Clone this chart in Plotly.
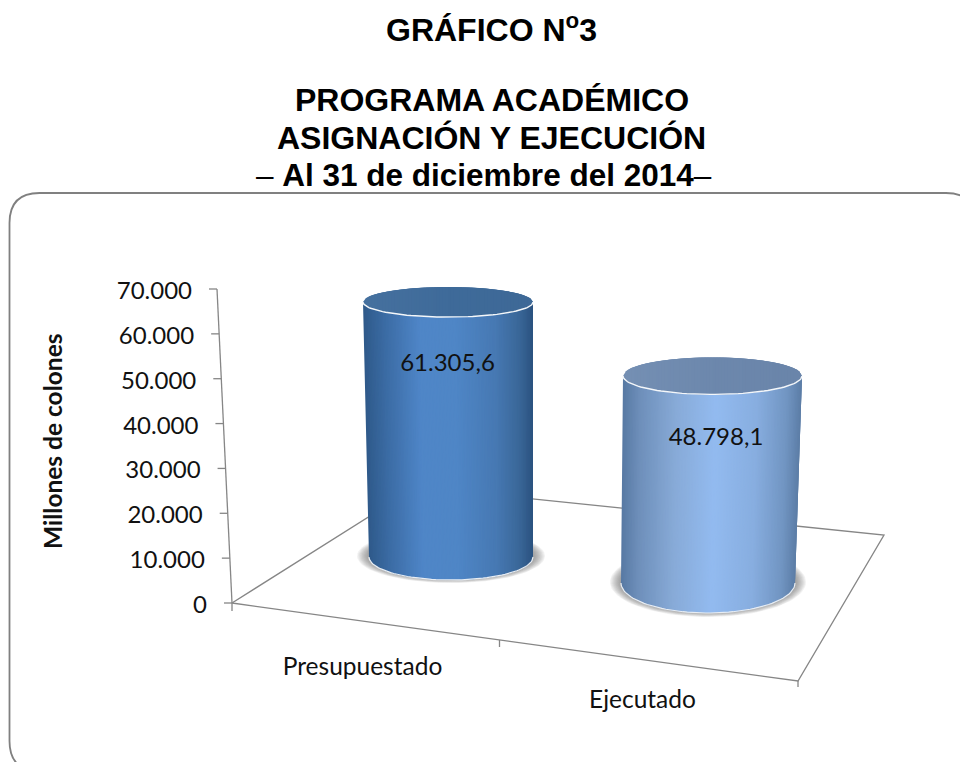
import numpy as np
import plotly.graph_objects as go

# Data
categories = ["Presupuestado", "Ejecutado"]
values = [61305.6, 48798.1]
tick_values = [0, 10000, 20000, 30000, 40000, 50000, 60000, 70000]
tick_labels = ["0", "10.000", "20.000", "30.000", "40.000", "50.000", "60.000", "70.000"]

W, H = 960, 762
ZERO_PX = 603  # pixel row of the value 0
PX_PER_UNIT = 314 / 70000


def px(n):
    # pixels -> value units on the y axis
    return n / PX_PER_UNIT


def row(y_px):
    return (ZERO_PX - y_px) / PX_PER_UNIT


# Cylinder geometry (the "3D" projection), one entry per category
cyl_cx_base = [451, 708]
cyl_cx_top = [448, 712.5]
cyl_base_row = [557, 583]
cyl_rx_base = [82, 87]
cyl_rx_top = [85, 89.5]
cyl_ry_base = [23, 30]
cyl_ry_top = [15, 18.5]
cyl_depth_scale = [0.927, 0.946]

side_stops = [
    [(0, "#2f5a8a"), (0.12, "#3b6ba3"), (0.33, "#4f86c8"), (0.55, "#4f86c6"), (0.78, "#4779b3"), (0.92, "#3a6798"), (1, "#2b5280")],
    [(0, "#587aa3"), (0.1, "#6f90bb"), (0.3, "#88abd8"), (0.52, "#93bbf0"), (0.75, "#88aee0"), (0.92, "#7195c2"), (1, "#5c7da6")],
]
top_stops = [
    [(0, "#46719f"), (0.5, "#3f6b9a"), (1, "#3e6997")],
    [(0, "#7590b4"), (0.5, "#6d88ad"), (1, "#6a85aa")],
]
shadow_rx = [94, 98]
shadow_ry = [27, 35]
shadow_cy = [556, 582]


def mix(stops, t):
    pos = [s[0] for s in stops]
    rgb = [[int(s[1][i:i + 2], 16) for i in (1, 3, 5)] for s in stops]
    c = [np.interp(t, pos, [r[k] for r in rgb]) for k in range(3)]
    return "rgb(%d,%d,%d)" % tuple(c)


fig = go.Figure()


def poly(x, y, color):
    fig.add_trace(go.Scatter(
        x=x, y=y, mode="lines", fill="toself", fillcolor=color,
        line=dict(width=0), hoverinfo="skip", showlegend=False,
    ))


def line(x, y, color="#868686", width=1.3):
    fig.add_trace(go.Scatter(
        x=x, y=y, mode="lines", line=dict(color=color, width=width),
        hoverinfo="skip", showlegend=False,
    ))


def text(x, y, labels, size, position="middle center"):
    fig.add_trace(go.Scatter(
        x=x, y=y, mode="text", text=labels, textposition=position,
        textfont=dict(family="Lato", size=size, color="#111111"),
        hoverinfo="skip", showlegend=False,
    ))


# Tilted value axis and its ticks
def axis_x(v):
    return 232 - 15 * v / 70000


line([axis_x(0), axis_x(70000)], [0, 70000])
for v in tick_values:
    line([axis_x(v) - 8, axis_x(v)], [v, v])
line([232, 232], [0, row(611)])
text([axis_x(v) - 25 for v in tick_values], [v - px(4) for v in tick_values], tick_labels, 24, "middle left")

# Floor
line([232, 416, 884, 798, 232], [row(603), row(487), row(535), row(681), row(603)])
line([499.5, 499.5], [row(640), row(647)])
line([798, 798], [row(681), row(687)])

# Cylinders
angles = np.linspace(0, 2 * np.pi, 90)
for i, value in enumerate(values):
    y_base = row(cyl_base_row[i])
    y_top = y_base + value * cyl_depth_scale[i]

    # soft shadow under the base
    for k in range(10):
        grow = 1 - k / 10
        rx = cyl_rx_base[i] + (shadow_rx[i] - cyl_rx_base[i]) * grow
        ry = cyl_ry_base[i] + (shadow_ry[i] - cyl_ry_base[i]) * grow
        poly(cyl_cx_base[i] + rx * np.cos(angles),
             row(shadow_cy[i]) + px(ry) * np.sin(angles),
             "rgba(110,110,110,0.085)")

    # side of the cylinder: strips overlap the next ones so no seams show
    ts = np.linspace(-1, 1, 121)
    for j in range(len(ts) - 1):
        pair = ts[j:j + 4]
        bow = np.sqrt(np.clip(1 - pair ** 2, 0, 1))
        xs = list(cyl_cx_top[i] + cyl_rx_top[i] * pair) + list((cyl_cx_base[i] + cyl_rx_base[i] * pair)[::-1])
        ys = list(y_top - px(cyl_ry_top[i]) * bow) + list((y_base - px(cyl_ry_base[i]) * bow)[::-1])
        poly(xs + xs[:1], ys + ys[:1], mix(side_stops[i], (ts[j] + ts[j + 1]) / 4 + 0.5))

    # rim at the bottom
    t = np.linspace(0, np.pi, 60)
    line(cyl_cx_base[i] + cyl_rx_base[i] * np.cos(t), y_base - px(cyl_ry_base[i]) * np.sin(t), "#e8edf3", 1.2)

    # top face
    ts = np.linspace(-1, 1, 61)
    for j in range(len(ts) - 1):
        pair = ts[j:j + 4]
        bow = np.sqrt(np.clip(1 - pair ** 2, 0, 1))
        xs = list(cyl_cx_top[i] + cyl_rx_top[i] * pair)
        up = list(y_top + px(cyl_ry_top[i]) * bow)
        dn = list(y_top - px(cyl_ry_top[i]) * bow)
        poly(xs + xs[::-1] + xs[:1], up + dn[::-1] + up[:1], mix(top_stops[i], (ts[j] + ts[j + 1]) / 4 + 0.5))
    line(cyl_cx_top[i] + cyl_rx_top[i] * np.cos(t), y_top - px(cyl_ry_top[i]) * np.sin(t), "#f4f7fa", 1.4)

    # value label
    label = f"{value:,.1f}".replace(",", "X").replace(".", ",").replace("X", ".")
    text([cyl_cx_top[i] - 0.5 + 4 * i], [y_top - px(63)], [label], 24)

# Category labels
text([362.5, 642.5], [row(668.5), row(702)], categories, 24.5)

# Axis title and headings
annotations = [
    dict(x=52 / W, y=1 - 441 / H, text="<b>Millones de colones</b>", textangle=-90,
         font=dict(family="Lato", size=24.5, color="#111111")),
    dict(x=492 / W, y=1 - 28 / H, text="<b>GRÁFICO N<sup>o</sup>3</b>"),
    dict(x=492 / W, y=1 - 100 / H, text="<b>PROGRAMA ACADÉMICO</b>"),
    dict(x=491 / W, y=1 - 138 / H, text="<b>ASIGNACIÓN Y EJECUCIÓN</b>"),
    dict(x=484 / W, y=1 - 175 / H, text="– <b>Al 31 de diciembre del 2014</b>–",
         font=dict(family="Liberation Sans", size=31.5, color="#000000")),
]
for a in annotations:
    a.setdefault("font", dict(family="Liberation Sans", size=32, color="#000000"))
    a.update(xref="paper", yref="paper", showarrow=False, xanchor="center", yanchor="middle")

# Rounded frame, the right side runs off the page
L, R, T, B = 9.5 / W, 976 / W, 1 - 193 / H, 1 - 771 / H
rx, ry = 30 / W, 30 / H
frame = (f"M {L} {T - ry} Q {L} {T} {L + rx} {T} L {R - rx} {T} Q {R} {T} {R} {T - ry} "
         f"L {R} {B + ry} Q {R} {B} {R - rx} {B} L {L + rx} {B} Q {L} {B} {L} {B + ry} Z")

fig.update_layout(
    width=W, height=H, margin=dict(l=0, r=0, t=0, b=0),
    paper_bgcolor="white", plot_bgcolor="white", showlegend=False,
    xaxis=dict(range=[0, W], visible=False, fixedrange=True),
    yaxis=dict(range=[row(H), row(0)], visible=False, fixedrange=True),
    annotations=annotations,
    shapes=[dict(type="path", path=frame, xref="paper", yref="paper",
                 line=dict(color="#808080", width=1.8))],
)

fig.write_html("out.html", config=dict(displayModeBar=False),
               post_script="document.body.style.margin='0';document.documentElement.style.overflow='hidden';")
